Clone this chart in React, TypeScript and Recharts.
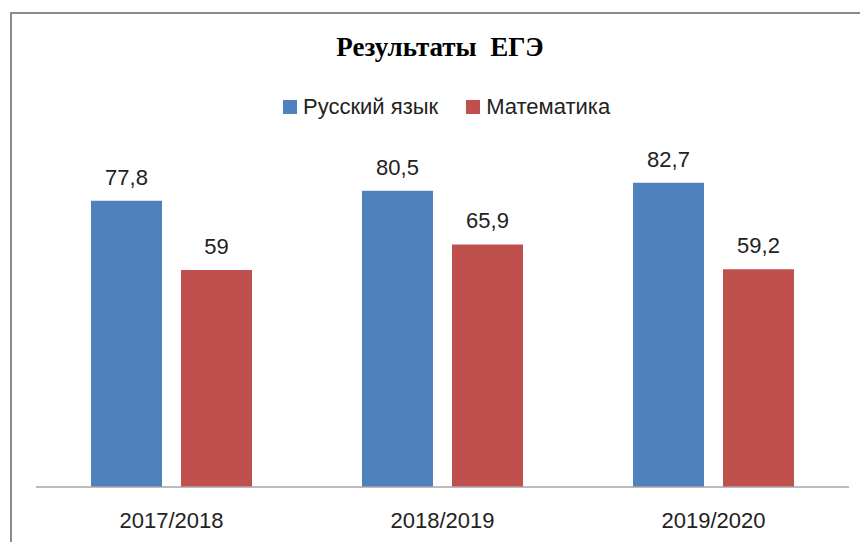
import { BarChart, Bar, XAxis, YAxis, LabelList, Legend } from "recharts"

const years = ["2017/2018", "2018/2019", "2019/2020"]
const russian = [77.8, 80.5, 82.7]
const math = [59, 65.9, 59.2]

const seriesNames = ["Русский язык", "Математика"]
const seriesColors = ["#4F81BD", "#C0504D"]

const chartData = years.map((year, i) => ({
  year,
  russian: russian[i],
  math: math[i],
}))

const fmt = (v: any) => String(v).replace(".", ",")

function LegendBox() {
  return (
    <div
      style={{
        display: "flex",
        alignItems: "center",
        fontSize: 22,
        color: "#222",
        fontFamily: "Liberation Sans, Arial, sans-serif",
        lineHeight: "28px",
      }}
    >
      {seriesNames.map((name, i) => (
        <div key={name} style={{ display: "flex", alignItems: "center", marginRight: i === 0 ? 28 : 0 }}>
          <span
            style={{
              display: "inline-block",
              width: 14,
              height: 14,
              background: seriesColors[i],
              marginRight: 6,
            }}
          />
          <span>{name}</span>
        </div>
      ))}
    </div>
  )
}

export default function App() {
  return (
    <div
      style={{
        position: "absolute",
        left: 0,
        top: 0,
        width: 860,
        height: 542,
        overflow: "hidden",
        background: "#fff",
      }}
    >
      <div
        style={{
          position: "absolute",
          left: 10,
          top: 12,
          width: 860,
          height: 540,
          borderLeft: "2px solid #8c8c8c",
          borderTop: "2px solid #8c8c8c",
        }}
      />
      <div
        style={{
          position: "absolute",
          left: 0,
          top: 32,
          width: 880,
          textAlign: "center",
          fontFamily: "Liberation Serif, Times New Roman, serif",
          fontWeight: "bold",
          fontSize: 27,
          color: "#000",
          whiteSpace: "pre",
        }}
      >
        {"Результаты  ЕГЭ"}
      </div>
      <div style={{ position: "absolute", left: 0, top: 0 }}>
        <BarChart
          width={860}
          height={542}
          data={chartData}
          margin={{ top: 119, right: 11, bottom: 0, left: 36 }}
          barSize={71}
          barGap={19}
          style={{ fontFamily: "Liberation Sans, Arial, sans-serif" }}
        >
          <XAxis
            dataKey="year"
            height={55}
            tickLine={false}
            axisLine={{ stroke: "#a6a6a6", strokeWidth: 1.5 }}
            tick={{ fill: "#222", fontSize: 22 }}
            tickMargin={19}
          />
          <YAxis hide domain={[0, 100]} />
          <Legend
            verticalAlign="middle"
            wrapperStyle={{ top: 93, left: 283, width: "auto" }}
            content={() => <LegendBox />}
          />
          <Bar dataKey="russian" name={seriesNames[0]} fill={seriesColors[0]} isAnimationActive={false}>
            <LabelList dataKey="russian" position="top" offset={16} formatter={fmt} fill="#222" fontSize={22} />
          </Bar>
          <Bar dataKey="math" name={seriesNames[1]} fill={seriesColors[1]} isAnimationActive={false}>
            <LabelList dataKey="math" position="top" offset={16} formatter={fmt} fill="#222" fontSize={22} />
          </Bar>
        </BarChart>
      </div>
    </div>
  )
}
